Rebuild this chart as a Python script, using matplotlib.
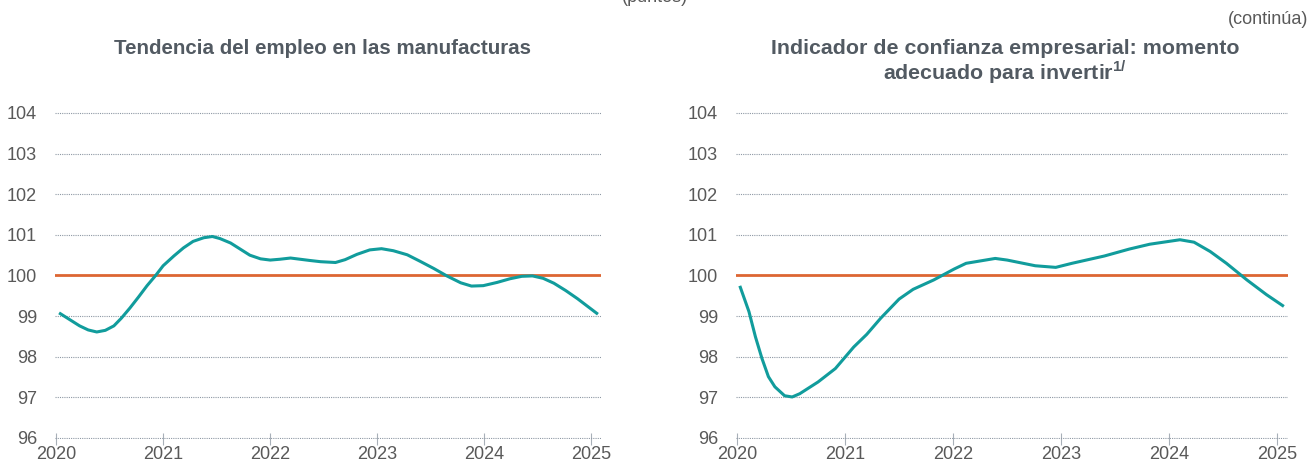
"""Two panels: manufacturing employment trend and business confidence (investment)."""

from matplotlib import pyplot

# Tendencia del empleo en las manufacturas (puntos)
emp_x = [2020.04, 2020.13, 2020.22, 2020.30, 2020.38, 2020.46, 2020.54, 2020.61,
         2020.69, 2020.77, 2020.85, 2020.93, 2021.00, 2021.10, 2021.19, 2021.28,
         2021.38, 2021.46, 2021.53, 2021.63, 2021.72, 2021.81, 2021.91, 2022.00,
         2022.09, 2022.19, 2022.28, 2022.37, 2022.47, 2022.61, 2022.70, 2022.81,
         2022.93, 2023.04, 2023.15, 2023.28, 2023.40, 2023.53, 2023.65, 2023.78,
         2023.88, 2023.99, 2024.12, 2024.24, 2024.35, 2024.45, 2024.55, 2024.65,
         2024.76, 2024.87, 2024.96, 2025.05]
emp_y = [99.06, 98.91, 98.76, 98.66, 98.61, 98.65, 98.76, 98.95,
         99.20, 99.47, 99.75, 100.00, 100.24, 100.48, 100.68, 100.84,
         100.93, 100.96, 100.91, 100.80, 100.65, 100.50, 100.41, 100.38,
         100.40, 100.43, 100.40, 100.37, 100.34, 100.32, 100.39, 100.52,
         100.63, 100.66, 100.61, 100.51, 100.35, 100.17, 99.99, 99.82,
         99.74, 99.75, 99.83, 99.92, 99.98, 99.99, 99.93, 99.81,
         99.63, 99.43, 99.25, 99.07]

# Momento adecuado para invertir (puntos)
conf_x = [2020.03, 2020.11, 2020.17, 2020.23, 2020.29, 2020.35, 2020.44, 2020.51,
          2020.58, 2020.75, 2020.91, 2021.08, 2021.2, 2021.33, 2021.5, 2021.63,
          2021.82, 2022.01, 2022.12, 2022.39, 2022.5, 2022.76, 2022.95, 2023.1,
          2023.4, 2023.63, 2023.82, 2024.1, 2024.23, 2024.38, 2024.53, 2024.72,
          2024.9, 2025.05]
conf_y = [99.71, 99.11, 98.49, 97.96, 97.51, 97.26, 97.04, 97.01,
          97.09, 97.38, 97.71, 98.24, 98.55, 98.95, 99.42, 99.66,
          99.89, 100.16, 100.3, 100.42, 100.38, 100.24, 100.2, 100.3,
          100.48, 100.65, 100.77, 100.88, 100.82, 100.59, 100.3, 99.89,
          99.53, 99.26]

years = [2020, 2021, 2022, 2023, 2024, 2025]
yticks = [96, 97, 98, 99, 100, 101, 102, 103, 104]
baseline = 100

teal = '#119C9C'
orange = '#DD6633'
text_color = '#595959'
title_color = '#525A62'
grid_color = '#8E98A4'

pyplot.rc('font', family=['Liberation Sans', 'DejaVu Sans'], size=13)
pyplot.rc('mathtext', fontset='custom', rm='Liberation Sans',
          bf='Liberation Sans:bold')

W, H = 1313, 466
fig = pyplot.figure(figsize=(W / 100, H / 100), dpi=100)


def make_axes(left_px, right_px, x_hi):
    # axes box in pixels, y from 95.98 to 104.02
    pxu = 325 / 8.0
    bottom = 438 + 0.02 * pxu
    top = 113 - 0.02 * pxu
    ax = fig.add_axes([left_px / W, (H - bottom) / H,
                       (right_px - left_px) / W, (bottom - top) / H])
    ax.set_xlim(2019.99, x_hi)
    ax.set_ylim(95.98, 104.02)
    for side in ax.spines.values():
        side.set_visible(False)
    ax.set_yticks(yticks)
    ax.set_xticks(years)
    ax.grid(axis='y', color=grid_color, linestyle=(0, (1, 1)), linewidth=0.8)
    ax.tick_params(axis='y', length=0, pad=13, labelcolor=text_color)
    ax.tick_params(axis='x', direction='inout', length=9, width=0.8,
                   color='#A8B0B8', pad=1, labelcolor=text_color)
    ax.axhline(baseline, color=orange, linewidth=2.0, zorder=2)
    return ax


ax1 = make_axes(55, 601, 2025.09)
ax1.plot(emp_x, emp_y, color=teal, linewidth=2.2, zorder=3)

ax2 = make_axes(736, 1288, 2025.1)
ax2.plot(conf_x, conf_y, color=teal, linewidth=2.2, zorder=3)

# Titles and notes
fig.text(323 / W, 1 - 54 / H, 'Tendencia del empleo en las manufacturas',
         ha='center', va='baseline', fontweight='bold', color=title_color,
         fontsize=14.8)
fig.text(1005 / W, 1 - 54 / H, 'Indicador de confianza empresarial: momento',
         ha='center', va='baseline', fontweight='bold', color=title_color,
         fontsize=15.4)
fig.text(1005 / W, 1 - 80 / H, r'adecuado para invertir$^{\mathbf{1/}}$',
         ha='center', va='baseline', fontweight='bold', color=title_color,
         fontsize=15.4)
fig.text(1308 / W, 1 - 20 / H, '(continúa)', ha='right', va='center',
         color=text_color)
fig.text(655 / W, 1 + 2 / H, '(puntos)', ha='center', va='center',
         color=text_color)

fig.savefig('out.png', dpi=100)
